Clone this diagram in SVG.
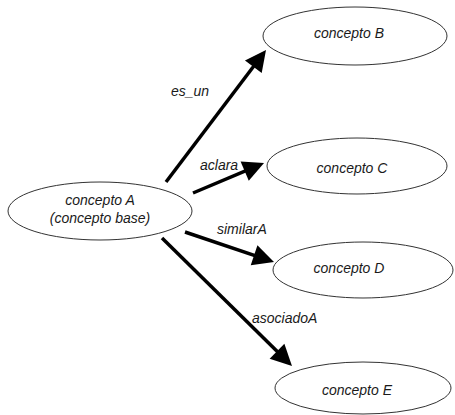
<svg xmlns="http://www.w3.org/2000/svg" width="455" height="415" viewBox="0 0 455 415">
  <style>
    .node ellipse { fill: #ffffff; stroke: #333333; stroke-width: 1; }
    text { font-family: "Liberation Sans", Arial, sans-serif; font-style: italic; font-size: 14px; fill: #1a1a1a; }
    .node text { text-anchor: middle; }
    .link { stroke: #000000; stroke-width: 3.5; fill: none; marker-end: url(#head); }
  </style>
  <defs>
    <marker id="head" markerUnits="userSpaceOnUse" markerWidth="21" markerHeight="21" refX="15" refY="10.5" orient="auto" overflow="visible">
      <path d="M0,0 L21,10.5 L0,21 z" fill="#000000"/>
    </marker>
  </defs>
  <rect width="455" height="415" fill="#ffffff"/>

  <g id="connectors">
    <line class="link" x1="166" y1="182" x2="262.4" y2="54.8"/>
    <line class="link" x1="193" y1="193" x2="258.5" y2="165.3"/>
    <line class="link" x1="185" y1="232" x2="268.3" y2="260.1"/>
    <line class="link" x1="162" y1="238" x2="287.7" y2="361.8"/>
    <text x="171" y="96">es_un</text>
    <text x="200" y="170">aclara</text>
    <text x="217" y="234">similarA</text>
    <text x="252" y="323">asociadoA</text>
  </g>

  <g id="conceptoA" class="node">
    <ellipse cx="100" cy="211" rx="92" ry="29"/>
    <text x="100" y="205">concepto A</text>
    <text x="100" y="223">(concepto base)</text>
  </g>
  <g id="conceptoB" class="node">
    <ellipse cx="355" cy="36" rx="92" ry="29"/>
    <text x="349" y="38">concepto B</text>
  </g>
  <g id="conceptoC" class="node">
    <ellipse cx="357" cy="166" rx="90" ry="28"/>
    <text x="352" y="173">concepto C</text>
  </g>
  <g id="conceptoD" class="node">
    <ellipse cx="363" cy="270" rx="90" ry="28"/>
    <text x="349" y="273">concepto D</text>
  </g>
  <g id="conceptoE" class="node">
    <ellipse cx="363" cy="388" rx="88" ry="26"/>
    <text x="357" y="395">concepto E</text>
  </g>
</svg>
